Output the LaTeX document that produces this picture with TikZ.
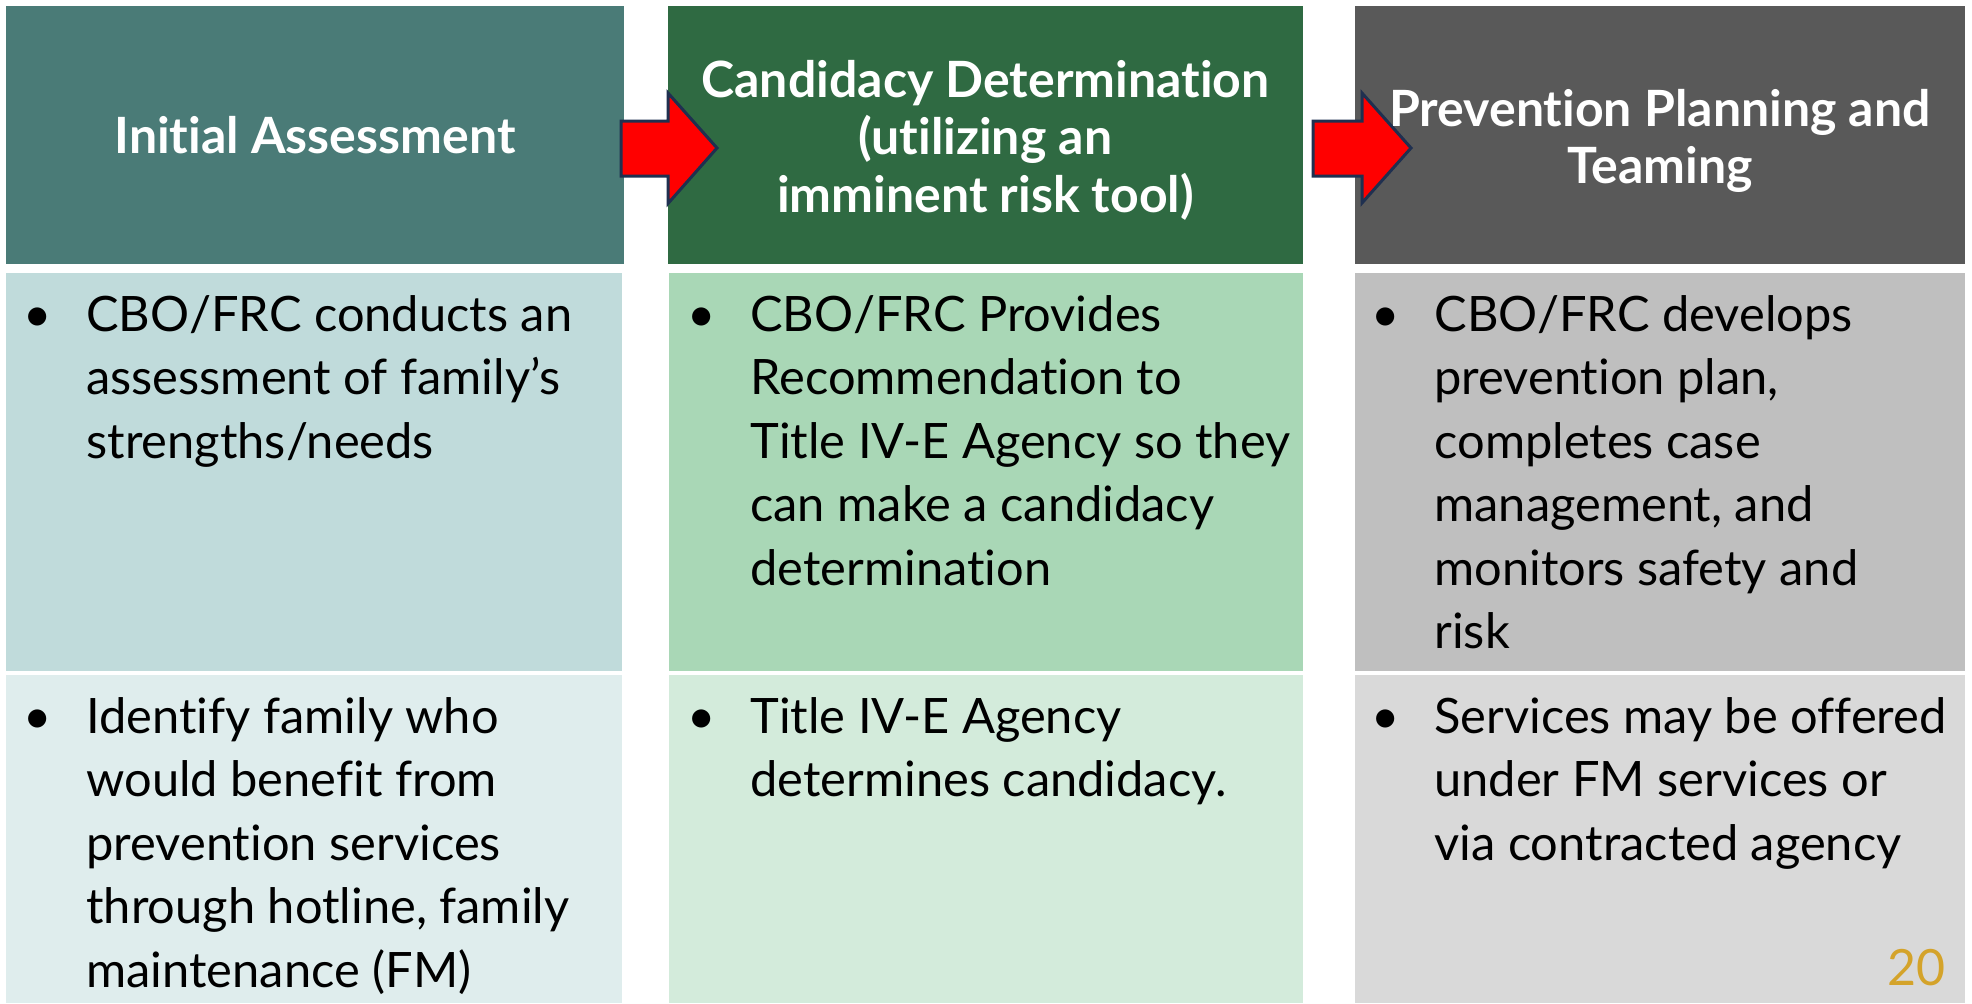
\documentclass[tikz,border=0pt]{standalone}
\usepackage{fontspec}
\setmainfont{Lato}[Ligatures=NoCommon]
\definecolor{tealH}{HTML}{4A7B77}
\definecolor{greenH}{HTML}{2F6A42}
\definecolor{grayH}{HTML}{595959}
\definecolor{tealA}{HTML}{C0DBDB}
\definecolor{greenA}{HTML}{A9D7B6}
\definecolor{grayA}{HTML}{BFBFBF}
\definecolor{tealB}{HTML}{DFEDED}
\definecolor{greenB}{HTML}{D3EBDB}
\definecolor{grayB}{HTML}{D9D9D9}
\definecolor{navy}{HTML}{1F3050}
\definecolor{gold}{HTML}{D4A32A}
\newcommand{\bul}{\leavevmode\llap{•\hspace{17.5pt}}}
\begin{document}
\begin{tikzpicture}[x=0.5pt,y=-0.5pt,
  hdrtxt/.style={inner sep=0, text=white, font=\fontsize{25pt}{28.75pt}\selectfont\bfseries},
  bodytxt/.style={inner sep=0, text=black, font=\fontsize{24.4pt}{31.75pt}\selectfont},
  blockarrow/.style={fill=red, draw=navy, line width=1.5pt, line join=miter}]
\useasboundingbox (0,0) rectangle (1972,1003);
\fill[white] (0,0) rectangle (1972,1003);
% header row
\fill[tealH]  (6,6)    rectangle (624,264);
\fill[greenH] (668,6)  rectangle (1303,264);
\fill[grayH]  (1355,6) rectangle (1965,264);
% row 1
\fill[tealA]  (6,273)    rectangle (622,671);
\fill[greenA] (669,273)  rectangle (1303,671);
\fill[grayA]  (1355,273) rectangle (1965,671);
% row 2
\fill[tealB]  (6,675)    rectangle (622,1003);
\fill[greenB] (669,675)  rectangle (1303,1003);
\fill[grayB]  (1355,675) rectangle (1965,1003);
% arrows
\coordinate (a1) at (621,121);
\coordinate (a2) at (1313,121);
\draw[blockarrow] (a1) -- ++(47,0) -- ++(0,-28) -- ++(49,55) -- ++(-49,55.5) -- ++(0,-27.5) -- ++(-47,0) -- cycle;
\draw[blockarrow] (a2) -- ++(49,0) -- ++(0,-28) -- ++(49,55) -- ++(-49,55) -- ++(0,-27) -- ++(-49,0) -- cycle;
% header texts
\node[hdrtxt, anchor=base] (t1) at (315,153) {\parbox[t]{300pt}{\centering Initial Assessment}};
\node[hdrtxt, anchor=base] (t2) at (985.5,97) {\parbox[t]{310pt}{\centering Candidacy Determination\\(utilizing an\\imminent risk tool)}};
\node[hdrtxt, anchor=base] (t3) at (1660,126) {\parbox[t]{300pt}{\centering Prevention Planning and\\Teaming}};
% body texts row 1
\node[bodytxt, anchor=base west] (b11) at (86,331) {\parbox[t]{300pt}{\raggedright\bul CBO/FRC conducts an\\assessment of family’s\\strengths/needs}};
\node[bodytxt, anchor=base west] (b12) at (750,331) {\parbox[t]{300pt}{\raggedright\bul CBO/FRC Provides\\Recommendation to\\Title IV-E Agency so they\\can make a candidacy\\determination}};
\node[bodytxt, anchor=base west] (b13) at (1434,331) {\parbox[t]{300pt}{\raggedright\bul CBO/FRC develops\\prevention plan,\\completes case\\management, and\\monitors safety and\\risk}};
% body texts row 2
\node[bodytxt, anchor=base west] (b21) at (86,733) {\parbox[t]{300pt}{\raggedright\bul Identify family who\\would benefit from\\prevention services\\through hotline, family\\maintenance (FM)}};
\node[bodytxt, anchor=base west] (b22) at (750,733) {\parbox[t]{300pt}{\raggedright\bul Title IV-E Agency\\determines candidacy.}};
\node[bodytxt, anchor=base west] (b23) at (1434,733) {\parbox[t]{300pt}{\raggedright\bul Services may be offered\\under FM services or\\via contracted agency}};
% page number
\node[inner sep=0, anchor=base east, text=gold, font=\fontsize{25pt}{25pt}\selectfont] (pg) at (1946,985) {20};
\end{tikzpicture}
\end{document}
